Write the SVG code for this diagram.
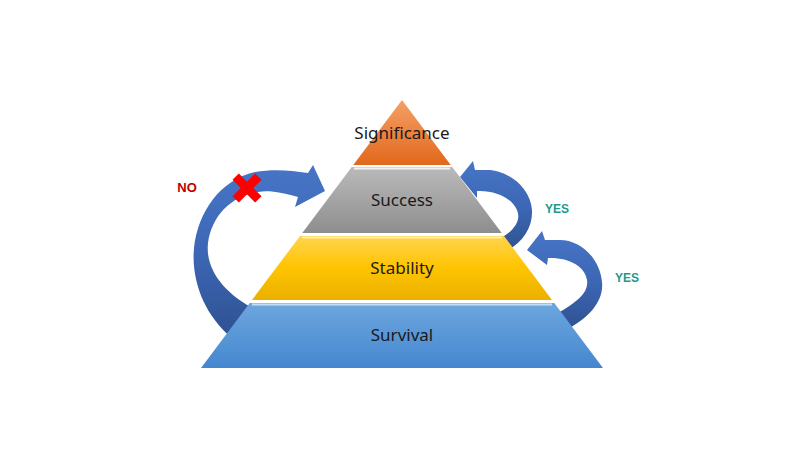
<svg xmlns="http://www.w3.org/2000/svg" width="800" height="450" viewBox="0 0 800 450">
<defs>
<linearGradient id="gSig" x1="0" y1="0" x2="0" y2="1"><stop offset="0" stop-color="#F4A067"/><stop offset="1" stop-color="#E2681C"/></linearGradient>
<linearGradient id="gSuc" x1="0" y1="0" x2="0" y2="1"><stop offset="0" stop-color="#BABABA"/><stop offset="1" stop-color="#8E8E8E"/></linearGradient>
<linearGradient id="gSta" x1="0" y1="0" x2="0" y2="1"><stop offset="0" stop-color="#FFD44F"/><stop offset="0.5" stop-color="#FFC400"/><stop offset="1" stop-color="#E9B000"/></linearGradient>
<linearGradient id="gSur" x1="0" y1="0" x2="0" y2="1"><stop offset="0" stop-color="#6EA6DE"/><stop offset="1" stop-color="#4487CF"/></linearGradient>
<linearGradient id="gArr" x1="0" y1="0" x2="0" y2="1"><stop offset="0" stop-color="#4775C6"/><stop offset="0.5" stop-color="#3D67B5"/><stop offset="1" stop-color="#2E5190"/></linearGradient>
</defs>
<style>
.lbl{font-family:"Noto Sans","Open Sans","Liberation Sans",sans-serif;font-size:17px;fill:#1a1a1a;text-anchor:middle}
.yes{font-family:"Liberation Sans",Arial,sans-serif;font-size:12px;font-weight:bold;fill:#23998A;text-anchor:middle}
.no{font-family:"Liberation Sans",Arial,sans-serif;font-size:13px;font-weight:bold;fill:#C00000;text-anchor:middle}
.arr{fill:url(#gArr)}
.hl{stroke-width:2;fill:none}
</style>
<rect width="800" height="450" fill="#ffffff"/>
<g id="connectors">
<path class="arr" d="M 232,338 C 204,315 191,280 194,248 C 198,212 220,180 255,172 C 272,169 290,170 308,173 L 313,165 L 325,191 L 295,207 L 298,197 C 283,193 270,190 258,192 C 232,196 212,215 208,243 C 205,270 225,295 260,312 Z"/>
<path class="arr" d="M 505,252 C 522,243 533,228 532,210 C 530,185 505,170 488,170 L 475,170 L 473,161 L 460,177 L 477,198 L 477,191 C 495,190 512,198 517,210 C 522,222 512,232 498,240 Z"/>
<path class="arr" d="M 565,330 C 590,318 604,300 602,282 C 600,258 580,240 560,240 L 545,240 L 542,231 L 527,250 L 547,265 L 548,258 C 568,257 585,266 587,280 C 589,292 578,302 556,314 Z"/>
</g>
<g id="survival">
<polygon points="249.75,303 554.25,303 603,368 201,368" fill="url(#gSur)"/>
<line class="hl" x1="252" y1="304.5" x2="552" y2="304.5" stroke="#BFE0FA"/>
<text class="lbl" x="402" y="341">Survival</text>
</g>
<g id="stability">
<polygon points="300,236 504,236 552,300 252,300" fill="url(#gSta)"/>
<line class="hl" x1="302" y1="237.5" x2="502" y2="237.5" stroke="#FFF0A8"/>
<text class="lbl" x="402" y="274">Stability</text>
</g>
<g id="success">
<polygon points="351.75,167 452.25,167 501.75,233 302.25,233" fill="url(#gSuc)"/>
<line class="hl" x1="354" y1="168.5" x2="450" y2="168.5" stroke="#F2F2F2"/>
<text class="lbl" x="402" y="206">Success</text>
</g>
<g id="significance">
<polygon points="402,100 450.75,165 353.25,165" fill="url(#gSig)"/>
<text class="lbl" x="402" y="139">Significance</text>
</g>
<g id="cross">
<rect x="231" y="183.5" width="32" height="9" fill="#FF0000" transform="rotate(45 247 188)"/>
<rect x="231" y="183.5" width="32" height="9" fill="#FF0000" transform="rotate(-45 247 188)"/>
</g>
<g id="labels">
<text class="no" x="187" y="192">NO</text>
<text class="yes" x="557" y="213">YES</text>
<text class="yes" x="627" y="282">YES</text>
</g>
</svg>
